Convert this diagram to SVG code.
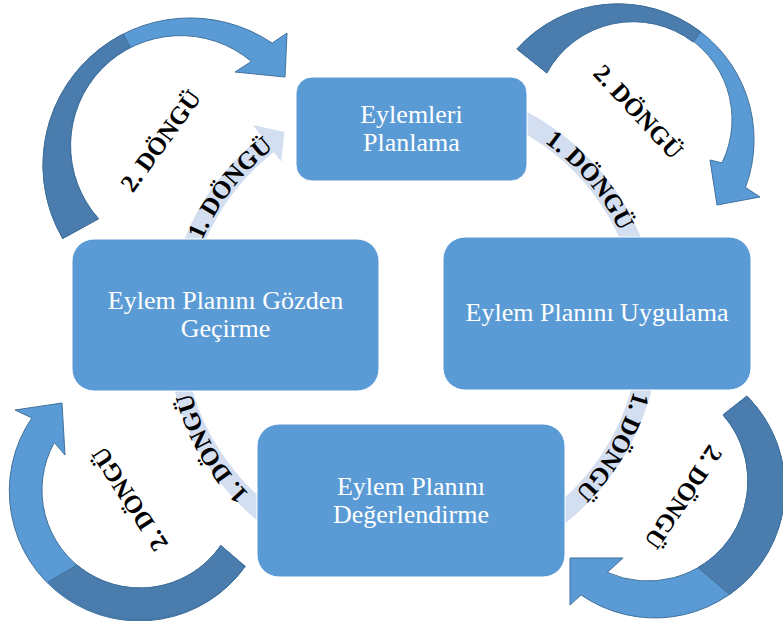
<svg xmlns="http://www.w3.org/2000/svg" width="783" height="621" viewBox="0 0 783 621">
<style>
.box{fill:#5B9BD5;stroke:#FFFFFF;stroke-width:1}
.lbl{font-family:"Liberation Serif","Times New Roman",serif;font-size:26px;fill:#FFFFFF;text-anchor:middle}
.band{fill:#D3DEF0}
.cyc{font-family:"Liberation Serif","Times New Roman",serif;font-weight:bold;font-size:25px;fill:#000000}
.arL{fill:#5B9BD5;stroke:#41719C;stroke-width:1}
.arD{fill:#4A7DAE;stroke:#41719C;stroke-width:1}
</style>
<defs>
<path id="t1" d="M 202.2 240.5 A 229 229 0 0 1 353.7 108.8"/>
<path id="t2" d="M 544.4 142.4 A 229 229 0 0 1 641.1 310.0"/>
<path id="t3" d="M 633.7 391.2 A 229 229 0 0 1 509.8 537.5"/>
<path id="t4" d="M 249.0 494.0 A 229 229 0 0 1 184.9 310.0"/>
</defs>
<rect width="783" height="621" fill="#FFFFFF"/>
<g id="connectors">
<g id="cycle1">
<path class="band" d="M 175.4 266.3 A 246 246 0 0 1 261.5 136.2 L 252.9 125.1 L 284.5 132.1 L 281.2 161.4 L 273.9 151.9 A 226 226 0 0 0 194.7 271.5 Z"/>
<path class="band" d="M 517.0 107.1 A 246 246 0 0 1 655.3 287.3 L 635.6 290.8 A 226 226 0 0 0 508.5 125.2 Z"/>
<path class="band" d="M 656.6 364.2 A 246 246 0 0 1 550.6 533.9 L 539.4 517.4 A 226 226 0 0 0 636.8 361.5 Z"/>
<path class="band" d="M 275.4 533.9 A 246 246 0 0 1 169.4 364.2 L 186.2 361.5 A 226 226 0 0 0 286.6 517.4 Z"/>
<text class="cyc"><textPath href="#t1">1. DÖNGÜ</textPath></text>
<text class="cyc"><textPath href="#t2">1. DÖNGÜ</textPath></text>
<text class="cyc"><textPath href="#t3">1. DÖNGÜ</textPath></text>
<text class="cyc"><textPath href="#t4">1. DÖNGÜ</textPath></text>
</g>
<g id="cycle2">
<path class="arL" d="M 62.7 238.5 A 147 147 0 0 1 272.2 43.1 L 287 33 L 285 77 L 235 72 L 251.4 61.4 A 110 110 0 0 0 98.5 218.8 Z"/>
<path class="arD" d="M 62.7 238.5 A 147 147 0 0 1 123.3 34.0 L 130.1 47.0 A 110 110 0 0 0 98.5 218.8 Z"/>
<path class="arL" d="M 516.9 49 A 136 136 0 0 1 745.5 187.4 L 760 197 L 717 205 L 710 160 L 722 162.9 A 98.5 98.5 0 0 0 546.8 72.9 Z"/>
<path class="arD" d="M 516.9 49 A 136 136 0 0 1 700.8 32.1 L 693.2 42.1 A 98.5 98.5 0 0 0 546.8 72.9 Z"/>
<path class="arL" d="M 746.9 396.1 A 130 130 0 0 1 581 594.9 L 570 605 L 570 558 L 623 558 L 607.3 572.4 A 100 100 0 0 0 723 414.9 Z"/>
<path class="arD" d="M 746.9 396.1 A 130 130 0 0 1 729.6 594.5 L 698 567.6 A 100 100 0 0 0 723 414.9 Z"/>
<path class="arL" d="M 245.2 566.4 A 130 130 0 0 1 31.8 417.9 L 15 410 L 62 403 L 65 455 L 54.3 442.5 A 98 98 0 0 0 220.8 545.5 Z"/>
<path class="arD" d="M 245.2 566.4 A 130 130 0 0 1 48.1 581.9 L 77 565.1 A 98 98 0 0 0 220.8 545.5 Z"/>
<g transform="translate(161,141) rotate(-54)"><text class="cyc" x="0" y="8" text-anchor="middle">2. DÖNGÜ</text></g>
<g transform="translate(638,112) rotate(47)"><text class="cyc" x="0" y="8" text-anchor="middle">2. DÖNGÜ</text></g>
<g transform="translate(683,497) rotate(124)"><text class="cyc" x="0" y="8" text-anchor="middle">2. DÖNGÜ</text></g>
<g transform="translate(130,499) rotate(237)"><text class="cyc" x="0" y="8" text-anchor="middle">2. DÖNGÜ</text></g>
</g>
</g>
<g id="node-planlama">
<rect class="box" x="296" y="77" width="231" height="104" rx="16"/>
<text class="lbl" x="411.5" y="123">Eylemleri</text>
<text class="lbl" x="411.5" y="151">Planlama</text>
</g>
<g id="node-gozden">
<rect class="box" x="72" y="239" width="307" height="152" rx="22"/>
<text class="lbl" x="225.5" y="309">Eylem Planını Gözden</text>
<text class="lbl" x="225.5" y="337">Geçirme</text>
</g>
<g id="node-uygulama">
<rect class="box" x="443" y="237" width="308" height="153" rx="22"/>
<text class="lbl" x="597" y="321">Eylem Planını Uygulama</text>
</g>
<g id="node-degerlendirme">
<rect class="box" x="257" y="424" width="308" height="153" rx="22"/>
<text class="lbl" x="411" y="495">Eylem Planını</text>
<text class="lbl" x="411" y="523">Değerlendirme</text>
</g>
</svg>
